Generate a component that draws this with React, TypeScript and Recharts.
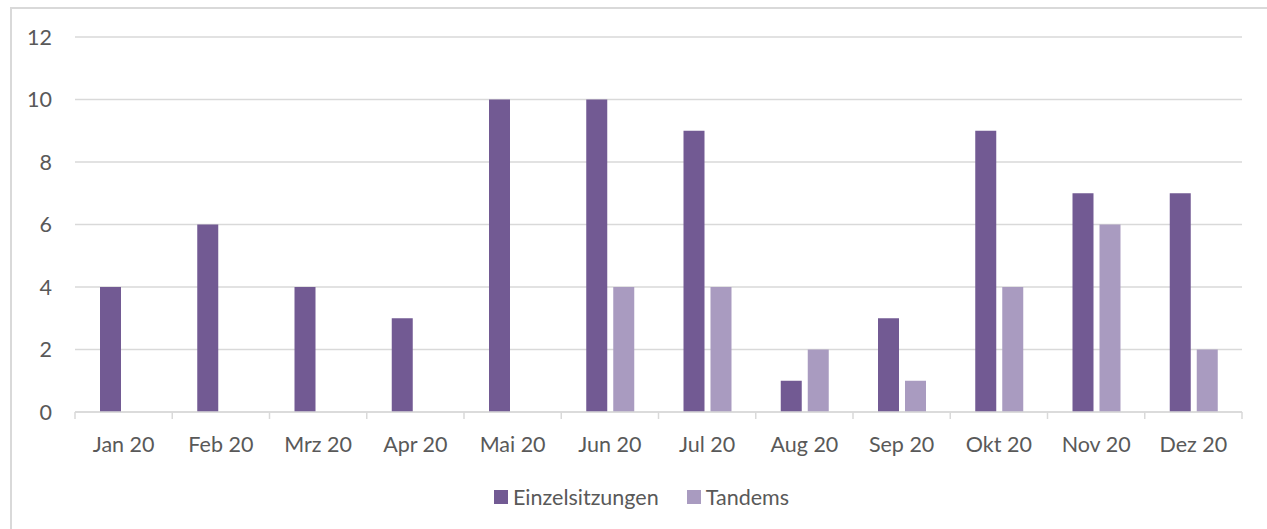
import { BarChart, Bar, XAxis, YAxis, CartesianGrid } from 'recharts';

const months = ['Jan 20', 'Feb 20', 'Mrz 20', 'Apr 20', 'Mai 20', 'Jun 20', 'Jul 20', 'Aug 20', 'Sep 20', 'Okt 20', 'Nov 20', 'Dez 20'];
const einzelsitzungen = [4, 6, 4, 3, 10, 10, 9, 1, 3, 9, 7, 7];
const tandems = [0, 0, 0, 0, 0, 4, 4, 2, 1, 4, 6, 2];
const yTicks = [0, 2, 4, 6, 8, 10, 12];

const DARK = '#725A93';
const LIGHT = '#A99BC0';
const TEXT = '#595959';
const GRID = '#D9D9D9';
const FONT = 'Lato, "Open Sans", sans-serif';
const FS = 21.5;

const data = months.map((m, i) => ({ name: m, einzel: einzelsitzungen[i], tandems: tandems[i] }));

const W = 1267;
const H = 529;
const PLOT_LEFT = 75;
const PLOT_RIGHT = 1242;
const BAND = (PLOT_RIGHT - PLOT_LEFT) / months.length;
const TICK_MARGIN = 25;

const MonthTick = (props: any) => {
  const { x, y, payload, index } = props;
  const axisY = y - TICK_MARGIN;
  return (
    <g>
      <line x1={x - BAND / 2} x2={x - BAND / 2} y1={axisY} y2={axisY + 7} stroke={GRID} strokeWidth={1.5} />
      {index === months.length - 1 && (
        <line x1={x + BAND / 2} x2={x + BAND / 2} y1={axisY} y2={axisY + 7} stroke={GRID} strokeWidth={1.5} />
      )}
      <text x={x} y={y} dy="0.71em" textAnchor="middle" fill={TEXT} fontSize={FS} fontFamily={FONT}>
        {payload.value}
      </text>
    </g>
  );
};

const LegendItem = ({ color, label }: { color: string; label: string }) => (
  <span style={{ display: 'inline-flex', alignItems: 'center', marginRight: 28 }}>
    <span style={{ width: 14, height: 14, background: color, display: 'inline-block', marginRight: 5 }} />
    <span>{label}</span>
  </span>
);

export default function App() {
  return (
    <div style={{ position: 'fixed', left: 0, top: 0, width: W, height: H, background: '#fff', overflow: 'hidden' }}>
      <div
        style={{
          position: 'absolute',
          left: 10,
          top: 7,
          width: W + 20,
          height: H + 20,
          border: `2px solid ${GRID}`,
          boxSizing: 'border-box',
        }}
      />
      <div style={{ position: 'absolute', left: 0, top: 0 }}>
        <BarChart
          width={W}
          height={H}
          data={data}
          margin={{ top: 37, right: W - PLOT_RIGHT, left: 15, bottom: 0 }}
          barSize={21}
          barGap={6}
        >
          <CartesianGrid vertical={false} stroke={GRID} strokeWidth={1.5} />
          <XAxis
            dataKey="name"
            height={117}
            axisLine={{ stroke: GRID, strokeWidth: 1.5 }}
            tickLine={false}
            tickSize={0}
            tickMargin={TICK_MARGIN}
            interval={0}
            tick={<MonthTick />}
          />
          <YAxis
            width={60}
            domain={[0, 12]}
            ticks={yTicks}
            axisLine={false}
            tickLine={false}
            tickSize={0}
            tickMargin={23}
            tick={{ fill: TEXT, fontSize: FS, fontFamily: FONT }}
          />
          <Bar dataKey="einzel" name="Einzelsitzungen" fill={DARK} isAnimationActive={false} />
          <Bar dataKey="tandems" name="Tandems" fill={LIGHT} isAnimationActive={false} />
        </BarChart>
      </div>
      <div
        style={{
          position: 'absolute',
          left: 494,
          top: 484,
          display: 'flex',
          fontFamily: FONT,
          fontSize: FS,
          color: TEXT,
          lineHeight: '26px',
          whiteSpace: 'nowrap',
        }}
      >
        <LegendItem color={DARK} label="Einzelsitzungen" />
        <LegendItem color={LIGHT} label="Tandems" />
      </div>
    </div>
  );
}
